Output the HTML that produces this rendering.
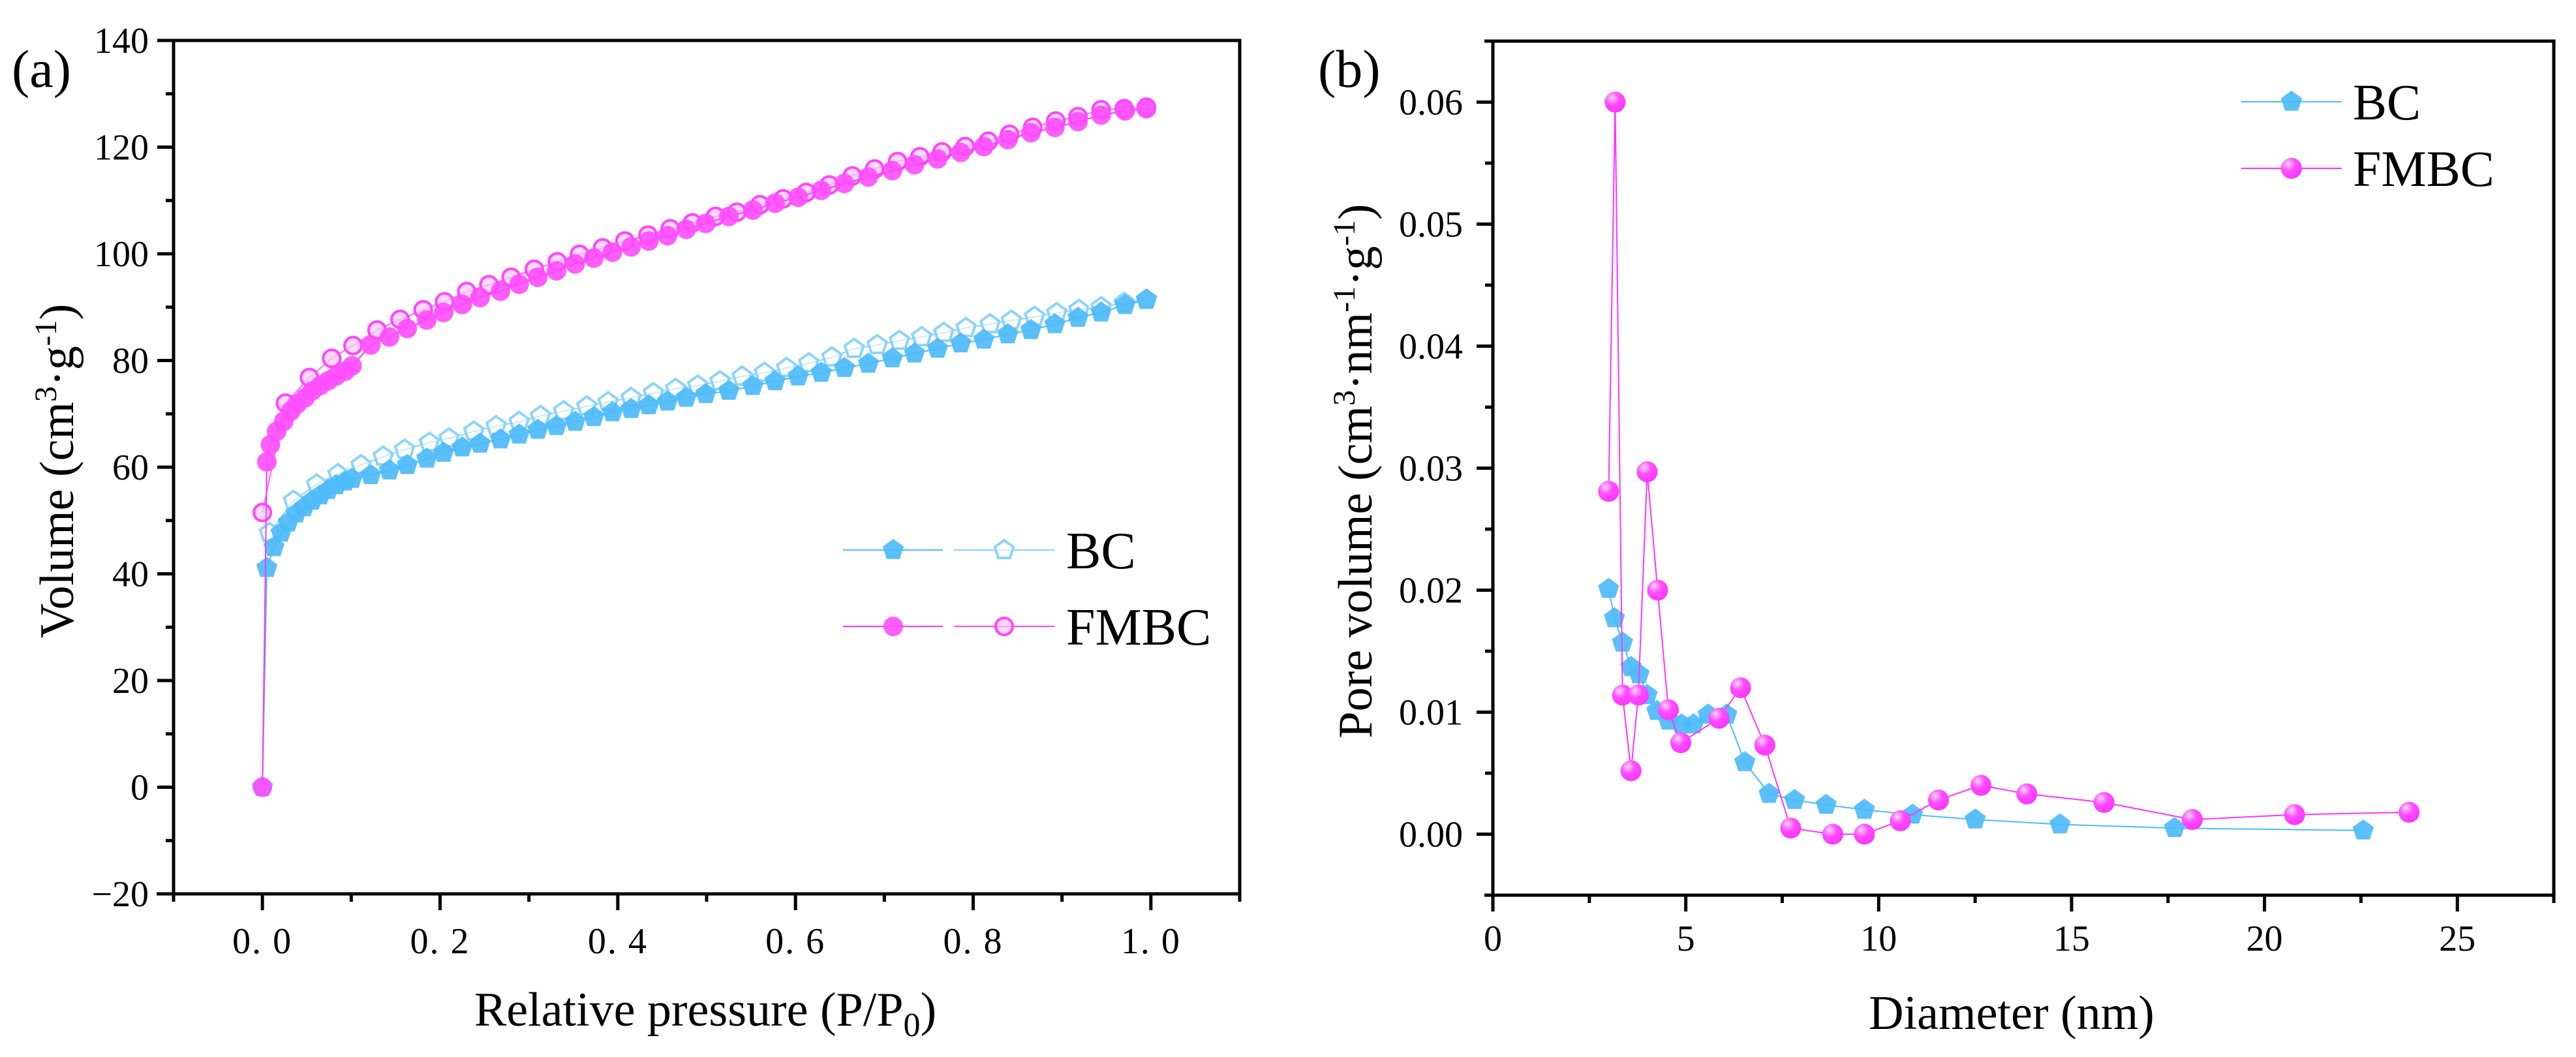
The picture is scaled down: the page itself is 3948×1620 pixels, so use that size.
<!DOCTYPE html>
<html><head><meta charset="utf-8"><style>
html,body{margin:0;padding:0;background:#fff;}
svg{display:block;}
svg text, svg tspan{font-family:"Liberation Serif",serif !important;fill:#000;}
</style></head><body>
<svg id="fig" width="3948" height="1620" viewBox="0 0 3948 1620" xmlns="http://www.w3.org/2000/svg" font-family="Liberation Serif, serif">
<defs>
<radialGradient id="sph" cx="0.35" cy="0.3" r="0.75">
<stop offset="0" stop-color="#ffe0ff"/><stop offset="0.18" stop-color="#ff9cff"/><stop offset="0.45" stop-color="#ff4dff"/><stop offset="1" stop-color="#ff33ff"/>
</radialGradient>
</defs>
<g id="pa"></g>
<g id="pb"></g>
</svg>
<script>
// ---------- Panel (a) data ----------
const bcAdsX=[0,.005,.013,.021,.029,.038,.047,.056,.065,.074,.083,.093,.101,.122,.143,.163,.185,.204,.225,.245,.268,.289,.310,.331,.352,.373,.394,.415,.435,.456,.477,.499,.525,.552,.577,.603,.629,.655,.682,.709,.734,.760,.786,.812,.839,.865,.892,.918,.944,.971,.995];
const bcAdsY=[0,41.1,45,47.7,49.6,51.3,52.5,53.7,54.7,55.7,56.6,57.3,57.8,58.5,59.4,60.4,61.6,62.7,63.7,64.4,65.2,66.1,67,67.7,68.5,69.4,70.3,70.9,71.6,72.3,73,73.7,74.3,75.2,76.1,77,77.7,78.6,79.4,80.4,81.3,82.2,83.2,83.9,84.9,85.7,86.8,88,89,90.4,91.4];
const bcDesX=[.008,.035,.061,.085,.111,.136,.160,.188,.210,.238,.263,.289,.313,.339,.365,.389,.415,.440,.465,.490,.515,.540,.565,.590,.615,.641,.666,.692,.717,.742,.767,.792,.819,.843,.869,.894,.919,.944,.970,.995];
const bcDesY=[47.7,53.7,56.8,58.7,60.4,62,63.3,64.6,65.4,66.7,67.7,68.5,69.6,70.5,71.4,72.2,73,73.9,74.7,75.3,76.1,77,77.7,78.6,79.5,80.6,82.2,82.9,83.7,84.4,85.2,86.1,86.8,87.5,88.2,88.9,89.5,90,90.8,91.4];
const fmAdsX=[0,.005,.009,.016,.024,.032,.039,.048,.056,.065,.074,.083,.093,.101,.122,.143,.163,.185,.204,.225,.245,.268,.289,.310,.331,.352,.373,.394,.415,.435,.456,.477,.499,.525,.552,.577,.603,.629,.655,.682,.709,.734,.760,.786,.812,.839,.865,.892,.918,.944,.971,.995];
const fmAdsY=[0,61,64.2,66.7,68.6,70.5,71.8,73,74.3,75.3,76.2,77.1,78,79,82.9,84.4,86,87.6,89,90.5,91.8,93,94.3,95.6,96.8,98.1,99.2,100.3,101.3,102.4,103.4,104.6,105.7,107,108.2,109.5,110.6,111.9,113.2,114.4,115.6,116.7,117.8,119,120.1,121.4,122.7,123.7,124.8,126,126.8,127.2];
const fmDesX=[0,.026,.053,.078,.102,.129,.155,.181,.205,.230,.255,.280,.306,.332,.357,.383,.408,.434,.459,.484,.510,.534,.560,.586,.612,.638,.664,.689,.715,.740,.765,.791,.817,.841,.867,.893,.918,.944,.970,.995];
const fmDesY=[51.5,72,76.8,80.4,82.8,85.7,87.7,89.5,91,92.9,94.2,95.6,97.1,98.5,99.9,101.1,102.4,103.5,104.7,105.8,107,107.8,109.2,110.3,111.5,112.9,114.6,115.9,117.3,118.2,119.1,120.1,121.1,122.4,123.7,124.9,125.7,127,127.2,127.5];
const aXTicks=[0,0.2,0.4,0.6,0.8,1.0];
const aXTickLabels=["0. 0","0. 2","0. 4","0. 6","0. 8","1. 0"];
const aYTicks=[-20,0,20,40,60,80,100,120,140];
// ---------- Panel (b) data ----------
const bcPsdX=[3.0,3.15,3.36,3.58,3.79,4.0,4.25,4.55,4.89,5.2,5.58,6.06,6.53,7.16,7.82,8.64,9.63,10.88,12.5,14.7,17.67,22.56];
const bcPsdY=[.0201,.0177,.0157,.0137,.0131,.0114,.0101,.0093,.0090,.0090,.0098,.0098,.0059,.0033,.0028,.0024,.0020,.0016,.0012,.0008,.0005,.0003];
const fmPsdX=[3.0,3.17,3.36,3.58,3.77,4.0,4.27,4.55,4.87,5.86,6.42,7.05,7.72,8.81,9.63,10.56,11.55,12.65,13.84,15.84,18.13,20.78,23.75];
const fmPsdY=[.0281,.0600,.0114,.0052,.0114,.0297,.0200,.0102,.0075,.0095,.0120,.0073,.0005,.0000,.0000,.0011,.0028,.0040,.0033,.0026,.0012,.0016,.0018];
const bXTicks=[0,5,10,15,20,25];
const bYTicks=[0,0.01,0.02,0.03,0.04,0.05,0.06];

const NS="http://www.w3.org/2000/svg";
function mk(parent,tag,attrs){const e=document.createElementNS(NS,tag);for(const k in attrs)e.setAttribute(k,attrs[k]);parent.appendChild(e);return e;}

const BC="#4dbbfa",BCO="#8dd3fb",FM="#ff33ff";
const aL=266,aR=1900,aT=62,aB=1370,aX0=-0.1,aX1=1.1,aY0=-20,aY1=140;
function ax(v){return aL+(v-aX0)/(aX1-aX0)*(aR-aL);}
function ay(v){return aB-(v-aY0)/(aY1-aY0)*(aB-aT);}
const bL=2288,bR=3914,bT=63,bB=1372,bX0=0,bX1=27.5,bY0=-0.005,bY1=0.065;
function bx(v){return bL+(v-bX0)/(bX1-bX0)*(bR-bL);}
function by(v){return bB-(v-bY0)/(bY1-bY0)*(bB-bT);}

function pent(cx,cy,r){let p=[];for(let i=0;i<5;i++){const a=-Math.PI/2+i*2*Math.PI/5;p.push((cx+r*Math.cos(a)).toFixed(1)+","+(cy+r*Math.sin(a)).toFixed(1));}return p.join(" ");}

function marker(g,type,cx,cy){
 let e;
 if(type==="bcF"){e=mk(g,"polygon",{points:pent(cx,cy,17),fill:BC,"fill-opacity":"0.92"});}
 else if(type==="bcO"){e=mk(g,"polygon",{points:pent(cx,cy,15),fill:"#ffffff","fill-opacity":"0.55",stroke:BCO,"stroke-width":"4"});}
 else if(type==="fmF"){e=mk(g,"circle",{cx:cx,cy:cy,r:15,fill:"#ff4dff","fill-opacity":"0.9"});}
 else if(type==="fmO"){e=mk(g,"circle",{cx:cx,cy:cy,r:13,fill:"#ffc8ff","fill-opacity":"0.7",stroke:"#ff44ff","stroke-width":"4"});}
 else if(type==="sph"){e=mk(g,"circle",{cx:cx,cy:cy,r:16,fill:"url(#sph)"});}
 return e;
}

function series(g,xs,ys,fx,fy,color,w,type,name){
 const sg=mk(g,"g",{});
 
 
 const pts=xs.map((x,i)=>fx(x).toFixed(1)+","+fy(ys[i]).toFixed(1)).join(" ");
 const pl=mk(sg,"polyline",{points:pts,fill:"none",stroke:color,"stroke-width":w});
 
 
 xs.forEach((x,i)=>{const m=marker(sg,type,fx(x),fy(ys[i]));
  
  });
}

function txt(g,x,y,s,size,anchor,name,extra){
 const t=mk(g,"text",Object.assign({x:x,y:y,"font-size":size,"text-anchor":anchor||"start","font-family":"Liberation Serif, serif"},extra||{}));
 t.innerHTML=s;
 
 
 return t;
}

// ---------- Panel a ----------
const pa=document.getElementById("pa");
series(pa,bcDesX,bcDesY,ax,ay,BCO,2,"bcO","bc-desorption");
series(pa,bcAdsX,bcAdsY,ax,ay,BC,2,"bcF","bc-adsorption");
series(pa,fmDesX,fmDesY,ax,ay,"#ff66ff",2,"fmO","fmbc-desorption");
series(pa,fmAdsX,fmAdsY,ax,ay,FM,2,"fmF","fmbc-adsorption");
{
 const fr=mk(pa,"g",{});
 
 
 mk(fr,"rect",{x:aL,y:aT,width:aR-aL,height:aB-aT,fill:"none",stroke:"#000","stroke-width":5});
 mk(fr,"line",{x1:aL-26,y1:aB,x2:aL,y2:aB,stroke:"#000","stroke-width":5});
 mk(fr,"line",{x1:aL,y1:aB,x2:aL,y2:aB+12,stroke:"#000","stroke-width":5});
 for(let v=-0.1;v<=1.101;v+=0.1){const isMaj=aXTicks.some(t=>Math.abs(t-v)<1e-6);
  mk(fr,"line",{x1:ax(v),y1:aB,x2:ax(v),y2:aB+(isMaj?25:12),stroke:"#000","stroke-width":5});}
 for(let v=-20;v<=140;v+=10){const isMaj=aYTicks.includes(v);
  mk(fr,"line",{x1:aL,y1:ay(v),x2:aL-(isMaj?25:12),y2:ay(v),stroke:"#000","stroke-width":5});}
 aXTicks.forEach((v,i)=>txt(pa,ax(v),1461,aXTickLabels[i],56,"middle","x-tick-label-a",{"letter-spacing":"2"}));
 aYTicks.forEach(v=>txt(pa,228,ay(v)+19,v<0?"−"+Math.abs(v):String(v),56,"end","y-tick-label-a"));
}
txt(pa,1081,1572,'Relative pressure (P/P<tspan font-size="52" dy="16">0</tspan><tspan dy="-16">)</tspan>',74,"middle","x-axis-title-a");
txt(pa,0,0,'Volume (cm<tspan font-size="48" dy="-26">3</tspan><tspan dy="26">·g</tspan><tspan font-size="48" dy="-26">-1</tspan><tspan dy="26">)</tspan>',74,"middle","y-axis-title-a",{transform:"translate(112,722) rotate(-90)"});
txt(pa,18,133,"(a)",82,"start","panel-label-a");
{
 const lg=mk(pa,"g",{});
 
 
 const rows=[["BC",843,BC,BCO,"bcF","bcO"],["FMBC",960,FM,"#ff44ff","fmF","fmO"]];
 rows.forEach(r=>{
  const e=mk(lg,"g",{});
  
  
  mk(e,"line",{x1:1292,y1:r[1],x2:1445,y2:r[1],stroke:r[2],"stroke-width":2});
  mk(e,"line",{x1:1462,y1:r[1],x2:1616,y2:r[1],stroke:r[3],"stroke-width":2});
  marker(e,r[4],1369,r[1]);marker(e,r[5],1539,r[1]);
  txt(e,1634,r[1]+28,r[0],80,"start","legend-label");
 });
}

// ---------- Panel b ----------
const pb=document.getElementById("pb");
series(pb,bcPsdX,bcPsdY,bx,by,BC,2,"bcF","bc-pore-distribution");
series(pb,fmPsdX,fmPsdY,bx,by,FM,2,"sph","fmbc-pore-distribution");
{
 const fr=mk(pb,"g",{});
 
 
 mk(fr,"rect",{x:bL,y:bT,width:bR-bL,height:bB-bT,fill:"none",stroke:"#000","stroke-width":5});
 mk(fr,"line",{x1:bL-13,y1:bB,x2:bL,y2:bB,stroke:"#000","stroke-width":5});
 mk(fr,"line",{x1:bL-13,y1:bT,x2:bL,y2:bT,stroke:"#000","stroke-width":5});
 mk(fr,"line",{x1:bR,y1:bB,x2:bR,y2:bB+12,stroke:"#000","stroke-width":5});
 for(let v=0;v<=27.5;v+=2.5){const isMaj=bXTicks.includes(v);
  mk(fr,"line",{x1:bx(v),y1:bB,x2:bx(v),y2:bB+(isMaj?25:12),stroke:"#000","stroke-width":5});}
 for(let k=-1;k<=13;k++){const v=k*0.005;const isMaj=(k%2===0&&k>=0);
  mk(fr,"line",{x1:bL,y1:by(v),x2:bL-(isMaj?25:12),y2:by(v),stroke:"#000","stroke-width":5});}
 bXTicks.forEach(v=>txt(pb,bx(v),1457,String(v),56,"middle","x-tick-label-b"));
 bYTicks.forEach(v=>txt(pb,2242,by(v)+19,v.toFixed(2),56,"end","y-tick-label-b"));
}
txt(pb,3083,1577,'Diameter (nm)',74,"middle","x-axis-title-b");
txt(pb,0,0,'Pore volume (cm<tspan font-size="48" dy="-26">3</tspan><tspan dy="26">·nm</tspan><tspan font-size="48" dy="-26">-1</tspan><tspan dy="26">·g</tspan><tspan font-size="48" dy="-26">-1</tspan><tspan dy="26">)</tspan>',74,"middle","y-axis-title-b",{transform:"translate(2102,722) rotate(-90)"});
txt(pb,2020,133,"(b)",82,"start","panel-label-b");
{
 const lg=mk(pb,"g",{});
 
 
 const rows=[["BC",156,BC,"bcF"],["FMBC",258,FM,"sph"]];
 rows.forEach(r=>{
  const e=mk(lg,"g",{});
  
  
  mk(e,"line",{x1:3435,y1:r[1],x2:3589,y2:r[1],stroke:r[2],"stroke-width":2});
  marker(e,r[3],3512,r[1]);
  txt(e,3606,r[1]+27,r[0],78,"start","legend-label");
 });
}
</script>
</body></html>
